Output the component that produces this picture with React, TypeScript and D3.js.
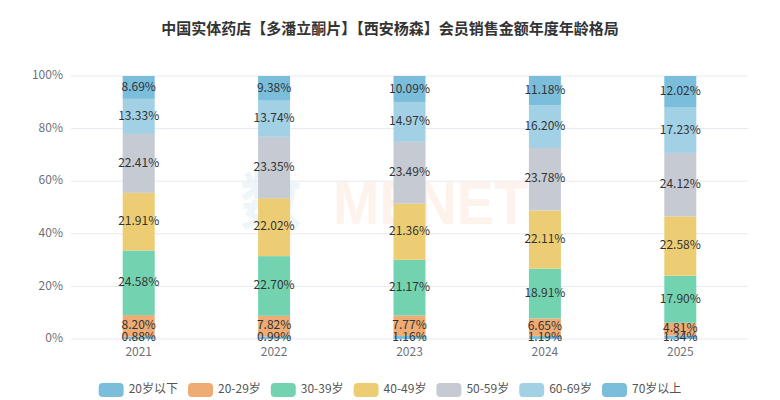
import React, { useMemo } from "react";
import * as d3 from "d3";

const title = "中国实体药店【多潘立酮片】【西安杨森】会员销售金额年度年龄格局";
const years = ["2021", "2022", "2023", "2024", "2025"];
const seriesNames = ["20岁以下", "20-29岁", "30-39岁", "40-49岁", "50-59岁", "60-69岁", "70岁以上"];
const under20 = [0.88, 0.99, 1.16, 1.19, 1.34];
const age20s = [8.2, 7.82, 7.77, 6.65, 4.81];
const age30s = [24.58, 22.7, 21.17, 18.91, 17.9];
const age40s = [21.91, 22.02, 21.36, 22.11, 22.58];
const age50s = [22.41, 23.35, 23.49, 23.78, 24.12];
const age60s = [13.33, 13.74, 14.97, 16.2, 17.23];
const over70 = [8.69, 9.38, 10.09, 11.18, 12.02];
const yTicks = [0, 20, 40, 60, 80, 100];
const colors = ["#7bbedb", "#eeac74", "#73d3b1", "#edcd74", "#c5cad3", "#a2d1e5", "#7bbedb"];

const W = 780;
const H = 400;
const FONT = "'Microsoft YaHei', 'Noto Sans CJK SC', 'Noto Sans', sans-serif";
const margin = { left: 71, right: 32, top: 76, bottom: 61 };

function measure(text: string, font: string): number {
  const c = document.createElement("canvas");
  const ctx = c.getContext("2d");
  if (!ctx) return text.length * 12;
  ctx.font = font;
  return ctx.measureText(text).width;
}

export default function App() {
  const seriesValues = [under20, age20s, age30s, age40s, age50s, age60s, over70];
  const rows = years.map((y, i) => {
    const r: any = { year: y };
    seriesNames.forEach((n, k) => (r[n] = seriesValues[k][i]));
    return r;
  });
  const stacked = d3.stack<any>().keys(seriesNames)(rows);

  const x = d3.scaleBand().domain(years).range([margin.left, W - margin.right]);
  const y = d3.scaleLinear().domain([0, 100]).range([H - margin.bottom, margin.top]);
  const barW = 32;

  const legend = useMemo(() => {
    const itemW = 25, itemH = 14, pad = 5, gap = 10;
    const widths = seriesNames.map((n) => measure(n, `12px ${FONT}`));
    const total = widths.reduce((a, w) => a + itemW + pad + w, 0) + gap * (seriesNames.length - 1);
    let cx = W / 2 - total / 2;
    return seriesNames.map((n, i) => {
      const item = { name: n, x: cx, w: widths[i], itemW, itemH };
      cx += itemW + pad + widths[i] + gap;
      return item;
    });
  }, []);

  return (
    <svg
      width={W}
      height={H}
      style={{ position: "fixed", left: 0, top: 0, background: "#fff", fontFamily: FONT }}
    >
      <rect x={0} y={0} width={W} height={H} fill="#fff" />
      {/* watermark */}
      <g opacity={1}>
        <text x={240} y={224} fontSize={62} fontWeight="bold" fill="#eef6f9" fontFamily={FONT}>
          数
        </text>
        <text x={333} y={224} fontSize={62} fontWeight="bold" fill="#fdf3ec" fontFamily="Arial, 'Liberation Sans', sans-serif" textLength={195} lengthAdjust="spacingAndGlyphs">
          MENET
        </text>
      </g>
      <text x={W / 2} y={30} textAnchor="middle" dominantBaseline="middle" fontSize={15} fontWeight="bold" fill="#333">
        {title}
      </text>
      {yTicks.map((t) => (
        <g key={t}>
          <line x1={margin.left} x2={W - margin.right} y1={y(t)} y2={y(t)} stroke="#e6e9f0" strokeWidth={1} />
          <text x={margin.left - 8} y={y(t)} textAnchor="end" dominantBaseline="middle" fontSize={12} fill="#6e7079">
            {t}%
          </text>
        </g>
      ))}
      {years.map((yr) => (
        <text key={yr} x={(x(yr) as number) + x.bandwidth() / 2} y={H - margin.bottom + 14} textAnchor="middle" dominantBaseline="middle" fontSize={12} fill="#6e7079">
          {yr}
        </text>
      ))}
      {stacked.map((s, k) => (
        <g key={s.key}>
          {s.map((d, i) => {
            const cx = (x(years[i]) as number) + x.bandwidth() / 2;
            return (
              <rect key={i} x={cx - barW / 2} y={y(d[1])} width={barW} height={y(d[0]) - y(d[1])} fill={colors[k]} />
            );
          })}
        </g>
      ))}
      {stacked.map((s, k) => (
        <g key={s.key + "l"}>
          {s.map((d, i) => {
            const cx = (x(years[i]) as number) + x.bandwidth() / 2;
            return (
              <text key={i} x={cx} y={(y(d[0]) + y(d[1])) / 2} textAnchor="middle" dominantBaseline="middle" fontSize={12} fill="#333">
                {seriesValues[k][i].toFixed(2)}%
              </text>
            );
          })}
        </g>
      ))}
      {legend.map((it, i) => (
        <g key={it.name}>
          <rect x={it.x} y={383} width={it.itemW} height={it.itemH} rx={4} fill={colors[i]} />
          <text x={it.x + it.itemW + 5} y={390} dominantBaseline="middle" fontSize={12} fill="#555">
            {it.name}
          </text>
        </g>
      ))}
    </svg>
  );
}
